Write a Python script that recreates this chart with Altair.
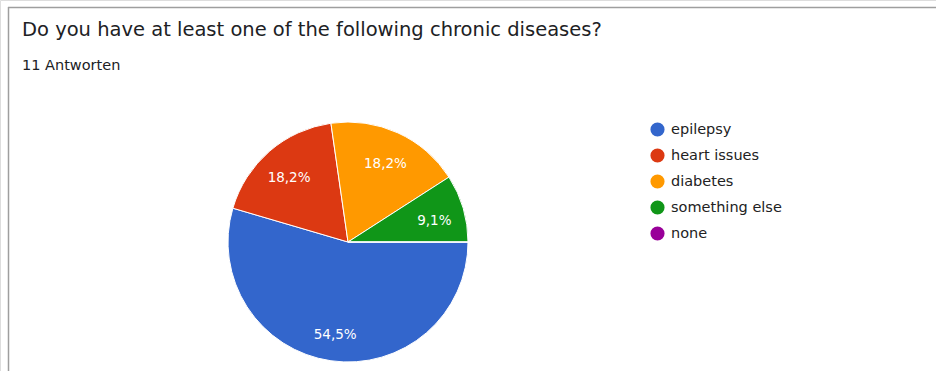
import math
import altair as alt
import pandas as pd

# Survey answers (11 responses)
categories = ["epilepsy", "heart issues", "diabetes", "something else", "none"]
counts = [6, 2, 2, 1, 0]
colors = ["#3366cc", "#dc3912", "#ff9900", "#109618", "#990099"]

question = "Do you have at least one of the following chronic diseases?"
responses = "11 Antworten"

total = sum(counts)
df = pd.DataFrame({
    "category": categories,
    "count": counts,
    "idx": list(range(len(categories))),
    "label": [f"{100 * c / total:.1f}".replace(".", ",") + "%" for c in counts],
})

FONT = "DejaVu Sans"
CX, CY, R = 348, 242, 120

theta_scale = alt.Scale(range=[math.pi / 2, math.pi / 2 + 2 * math.pi])
color_scale = alt.Scale(domain=categories, range=colors)

base = alt.Chart(df).encode(
    theta=alt.Theta("count:Q", stack=True, scale=theta_scale),
    order=alt.Order("idx:Q"),
)

pie = base.mark_arc(radius=R, stroke="white", strokeWidth=1).encode(
    x=alt.value(CX),
    y=alt.value(CY),
    color=alt.Color(
        "category:N",
        scale=color_scale,
        legend=alt.Legend(
            title=None,
            orient="none",
            legendX=650,
            legendY=122,
            symbolType="circle",
            symbolSize=200,
            symbolStrokeWidth=0,
            labelFont=FONT,
            labelFontSize=14.5,
            labelColor="#222222",
            rowPadding=10,
            labelOffset=6,
        ),
    ),
)

pct = base.transform_filter("datum.count > 0").mark_text(
    radius=90, dy=4, font=FONT, fontSize=13.5, color="white"
).encode(
    x=alt.value(CX),
    y=alt.value(CY),
    text="label:N",
)

title = alt.Chart(pd.DataFrame({"t": [question]})).mark_text(
    align="left", baseline="alphabetic", font=FONT, fontSize=19.5, color="#202124"
).encode(x=alt.value(22), y=alt.value(35.5), text="t:N")

subtitle = alt.Chart(pd.DataFrame({"t": [responses]})).mark_text(
    align="left", baseline="alphabetic", font=FONT, fontSize=14.5, color="#202124"
).encode(x=alt.value(22), y=alt.value(70), text="t:N")

# card frame: top and left edges
frame_top = alt.Chart(pd.DataFrame({"a": [0]})).mark_rule(
    color="#9e9e9e", strokeWidth=1.5
).encode(x=alt.value(8), x2=alt.value(936), y=alt.value(7.5))
frame_left = alt.Chart(pd.DataFrame({"a": [0]})).mark_rule(
    color="#9e9e9e", strokeWidth=1.5
).encode(x=alt.value(8.5), y=alt.value(7), y2=alt.value(371))

chart = alt.layer(frame_top, frame_left, title, subtitle, pie, pct).properties(
    width=936,
    height=371,
    padding=0,
    autosize=alt.AutoSizeParams(type="none"),
).configure_view(stroke=None).configure(background="white")

chart.save("out.html", embed_options={"renderer": "svg", "actions": False})
